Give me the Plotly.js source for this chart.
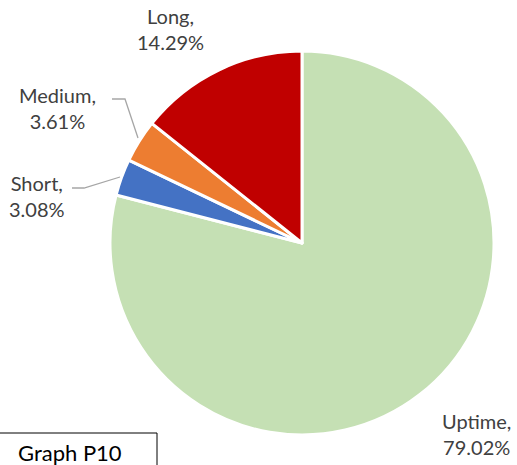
<!DOCTYPE html>
<html>
<head>
<meta charset="utf-8">
<script src="https://cdn.plot.ly/plotly-3.0.1.min.js"></script>
<style>html,body{margin:0;padding:0;background:#fff;}#chart{width:517px;height:465px;}</style>
</head>
<body>
<div id="chart"></div>
<script>
const categories = ["Uptime", "Short", "Medium", "Long"];
const percents = [79.02, 3.08, 3.61, 14.29];
const colors = ["#C5E0B4", "#4472C4", "#ED7D31", "#C00000"];
const boxLabel = "Graph P10";

const W = 517, H = 465;
const px = x => x / W;
const py = y => 1 - y / H;

// label anchor positions (pixels) per category
const labelPos = {
  "Uptime": [476, 434],
  "Short": [37, 196],
  "Medium": [57, 108],
  "Long": [170, 29]
};

const annotations = categories.map((c, i) => ({
  xref: "paper", yref: "paper",
  x: px(labelPos[c][0]), y: py(labelPos[c][1]),
  xanchor: "center", yanchor: "middle",
  text: c + ",<br>" + percents[i].toFixed(2) + "%",
  showarrow: false,
  font: {family: "Lato, 'Open Sans', sans-serif", size: 20, color: "#404040"}
}));
annotations.push({
  xref: "paper", yref: "paper",
  x: px(70), y: py(452), xanchor: "center", yanchor: "middle",
  text: boxLabel, showarrow: false,
  font: {family: "Lato, 'Open Sans', sans-serif", size: 22, color: "#000000"}
});

const lineStyle = {color: "#A6A6A6", width: 1.3};
const shapes = [
  {type: "path", xref: "paper", yref: "paper",
   path: `M ${px(112)} ${py(99)} L ${px(125)} ${py(99)} L ${px(138)} ${py(138)}`,
   line: lineStyle},
  {type: "path", xref: "paper", yref: "paper",
   path: `M ${px(72)} ${py(188)} L ${px(84)} ${py(188)} L ${px(120)} ${py(177)}`,
   line: lineStyle},
  {type: "rect", xref: "paper", yref: "paper",
   x0: px(-2), x1: px(157), y0: py(480), y1: py(433),
   line: {color: "#000000", width: 1}, fillcolor: "rgba(0,0,0,0)"}
];

const trace = {
  type: "pie",
  labels: categories,
  values: percents,
  sort: false,
  direction: "clockwise",
  rotation: 0,
  marker: {colors: colors, line: {color: "#FFFFFF", width: 3}},
  textinfo: "none",
  hoverinfo: "label+percent",
  showlegend: false,
  domain: {x: [px(110), px(494)], y: [py(435), py(51)]}
};

Plotly.newPlot("chart", [trace], {
  width: W, height: H,
  margin: {l: 0, r: 0, t: 0, b: 0},
  paper_bgcolor: "#ffffff",
  showlegend: false,
  annotations: annotations,
  shapes: shapes
}, {displayModeBar: false, staticPlot: true});
</script>
</body>
</html>
